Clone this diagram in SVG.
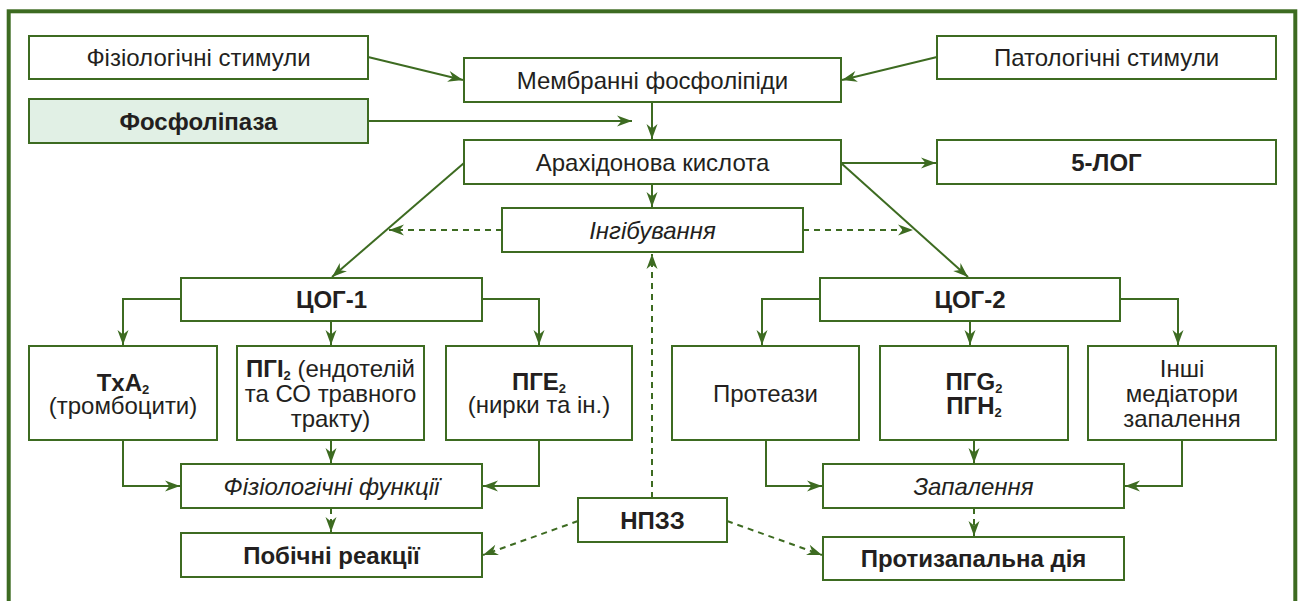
<svg xmlns="http://www.w3.org/2000/svg" width="1301" height="601" viewBox="0 0 1301 601">
<defs>
<style>
.box{fill:#fff;stroke:#3d6b21;stroke-width:2}
.hl{fill:#e1f0e5}
.t{font-family:"Liberation Sans",Arial,sans-serif;font-size:24px;fill:#231f20;text-anchor:middle}
.b{font-weight:bold}
.i{font-style:italic}
.sub{font-size:13px}
.c{fill:none;stroke:#3d6b21;stroke-width:2;marker-end:url(#ah)}
.d{stroke-dasharray:6,5}
</style>
<marker id="ah" markerUnits="userSpaceOnUse" viewBox="-16 -6 16 12" refX="0" refY="0" markerWidth="16" markerHeight="12" orient="auto">
<path d="M0,0 L-15,-5.5 L-10.5,0 L-15,5.5 Z" fill="#3d6b21"/>
</marker>
</defs>
<rect x="8.7" y="11.3" width="1286.6" height="640" fill="none" stroke="#3d6b21" stroke-width="4"/>
<g id="connectors">
<path class="c" d="M368,57 L463,80"/>
<path class="c" d="M937,57 L842,80"/>
<path class="c" d="M368,121 L632,121"/>
<path class="c" d="M652,102 L652,139"/>
<path class="c" d="M841,163 L936,163"/>
<path class="c" d="M652,184 L652,207"/>
<path class="c" d="M464,163 L332,277"/>
<path class="c" d="M841,163 L968,277"/>
<path class="c d" d="M502,230 L389,230"/>
<path class="c d" d="M803,230 L913,230"/>
<path class="c d" d="M652,498 L652,254"/>
<path class="c" d="M181,299 H123 V345"/>
<path class="c" d="M331,321 V345"/>
<path class="c" d="M482,299 H539 V345"/>
<path class="c" d="M820,299 H762 V345"/>
<path class="c" d="M970,321 V345"/>
<path class="c" d="M1120,299 H1178 V345"/>
<path class="c" d="M123,440 V486 H180"/>
<path class="c" d="M331,440 V463"/>
<path class="c" d="M539,440 V486 H483"/>
<path class="c" d="M766,440 V486 H822"/>
<path class="c" d="M974,440 V463"/>
<path class="c" d="M1182,440 V486 H1125"/>
<path class="c d" d="M331,508 V532"/>
<path class="c d" d="M974,508 V536"/>
<path class="c d" d="M578,521 L483,555"/>
<path class="c d" d="M727,521 L822,555"/>
</g>
<g id="n_fiz_stim"><rect class="box" x="29" y="36" width="339" height="43"/><text class="t" x="198.5" y="66">Фізіологічні стимули</text></g>
<g id="n_phospholipase"><rect class="box hl" x="29" y="99" width="339" height="44"/><text class="t b" x="198.5" y="129.5">Фосфоліпаза</text></g>
<g id="n_membrane"><rect class="box" x="464" y="58" width="377" height="44"/><text class="t" x="652.5" y="88.5">Мембранні фосфоліпіди</text></g>
<g id="n_pat_stim"><rect class="box" x="937" y="36" width="339" height="43"/><text class="t" x="1106.5" y="66">Патологічні стимули</text></g>
<g id="n_arach"><rect class="box" x="464" y="140" width="377" height="44"/><text class="t" x="652.5" y="170.5">Арахідонова кислота</text></g>
<g id="n_5log"><rect class="box" x="937" y="140" width="339" height="44"/><text class="t b" x="1106.5" y="170.5">5-ЛОГ</text></g>
<g id="n_inhib"><rect class="box" x="502" y="208" width="301" height="44"/><text class="t i" x="652.5" y="238.5">Інгібування</text></g>
<g id="n_cox1"><rect class="box" x="181" y="278" width="301" height="43"/><text class="t b" x="331.5" y="308">ЦОГ-1</text></g>
<g id="n_cox2"><rect class="box" x="820" y="278" width="300" height="43"/><text class="t b" x="970" y="308">ЦОГ-2</text></g>
<g id="n_txa2"><rect class="box" x="29" y="346" width="188" height="94"/><text class="t" x="123" y="391"><tspan class="b">TxA</tspan><tspan class="b sub" dy="3">2</tspan></text><text class="t" x="123" y="414">(тромбоцити)</text></g>
<g id="n_pgi2"><rect class="box" x="237" y="346" width="187" height="94"/><text class="t" x="330.5" y="377"><tspan class="b">ПГІ</tspan><tspan class="b sub" dy="3">2</tspan><tspan dy="-3"> (ендотелій</tspan></text><text class="t" x="330.5" y="402">та СО травного</text><text class="t" x="330.5" y="427">тракту)</text></g>
<g id="n_pge2"><rect class="box" x="446" y="346" width="186" height="94"/><text class="t" x="539" y="390"><tspan class="b">ПГЕ</tspan><tspan class="b sub" dy="3">2</tspan></text><text class="t" x="539" y="413">(нирки та ін.)</text></g>
<g id="n_proteases"><rect class="box" x="672" y="346" width="187" height="94"/><text class="t" x="765.5" y="402">Протеази</text></g>
<g id="n_pgg2"><rect class="box" x="880" y="346" width="188" height="94"/><text class="t" x="974" y="390"><tspan class="b">ПГG</tspan><tspan class="b sub" dy="3">2</tspan></text><text class="t" x="974" y="414"><tspan class="b">ПГН</tspan><tspan class="b sub" dy="3">2</tspan></text></g>
<g id="n_other"><rect class="box" x="1088" y="346" width="188" height="94"/><text class="t" x="1182" y="377">Інші</text><text class="t" x="1182" y="402">медіатори</text><text class="t" x="1182" y="427">запалення</text></g>
<g id="n_phys_func"><rect class="box" x="181" y="464" width="301" height="44"/><text class="t i" x="331.5" y="494.5">Фізіологічні функції</text></g>
<g id="n_side"><rect class="box" x="181" y="533" width="301" height="44"/><text class="t b" x="331.5" y="563.5">Побічні реакції</text></g>
<g id="n_nsaid"><rect class="box" x="578" y="498" width="149" height="44"/><text class="t b" x="652.5" y="528.5">НПЗЗ</text></g>
<g id="n_inflam"><rect class="box" x="823" y="464" width="301" height="44"/><text class="t i" x="973.5" y="494.5">Запалення</text></g>
<g id="n_antiinfl"><rect class="box" x="823" y="537" width="301" height="43"/><text class="t b" x="973.5" y="567">Протизапальна дія</text></g>
</svg>
